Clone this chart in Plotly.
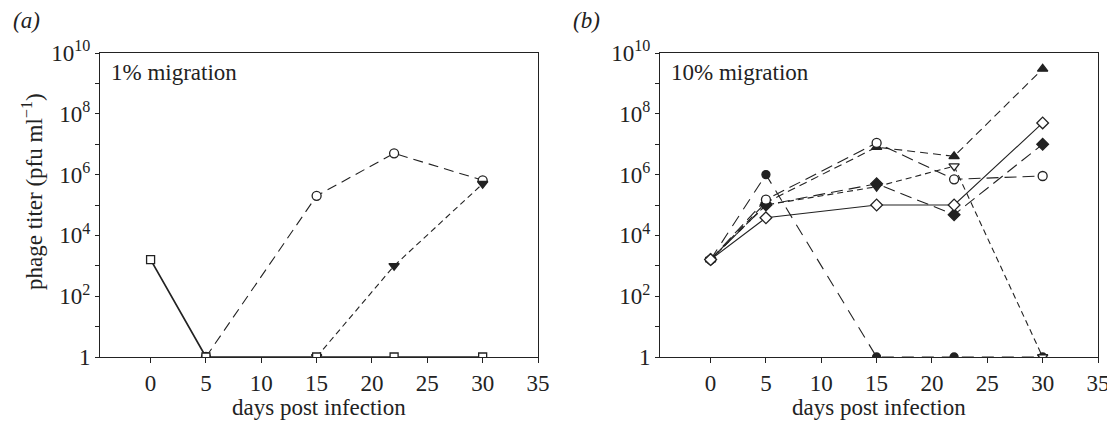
import plotly.graph_objects as go

# ---- data ----
days_a_sq = [0, 5, 15, 22, 30]
titer_a_sq = [1.6e3, 1, 1, 1, 1]
days_a_circ = [5, 15, 22, 30]
titer_a_circ = [1, 2e5, 5e6, 6.5e5]
days_a_tri = [15, 22, 30]
titer_a_tri = [1, 1e3, 5e5]

days_b = [0, 5, 15, 22, 30]
b_filled_circle = [1.6e3, 1e6, 1, 1, 1]
b_open_circle = [1.6e3, 1.5e5, 1.1e7, 7e5, 9e5]
b_filled_tri = [1.6e3, 1.2e5, 8e6, 4e6, 3e9]
b_open_tri_down = [1.6e3, 1e5, 4e5, 1.9e6, 1]
b_filled_diamond = [1.6e3, 1e5, 5e5, 4.8e4, 1e7]
b_open_diamond = [1.6e3, 3.8e4, 1e5, 1e5, 5e7]

x_ticks = [0, 5, 10, 15, 20, 25, 30, 35]
y_tickvals = [10 ** k for k in range(0, 11)]
y_ticktext = ["1" if k == 0 else (f"10<sup>{k}</sup>" if k % 2 == 0 else "") for k in range(0, 11)]

FONT = "Liberation Serif"
INK = "#222222"
FS = 23

# the page body adds an 8px offset; the figure is laid out in its own pixels
W, H = 1107, 417
OFF = 8

def px_x(p):  # page pixel -> paper fraction
    return (p - OFF) / W

def px_y(p):
    return 1 - (p - OFF) / H

fig = go.Figure()

def add(x, y, symbol, filled, dash, xa, ya, width=1.1, size=9):
    fig.add_trace(go.Scatter(
        x=x, y=y, mode="lines+markers", xaxis=xa, yaxis=ya,
        line=dict(color=INK, width=width, dash=dash),
        marker=dict(symbol=symbol, size=size, color=INK if filled else "white",
                    line=dict(color=INK, width=1.3)),
        showlegend=False))

# panel a
add(days_a_circ, titer_a_circ, "circle", False, "10px,6px", "x", "y")
add(days_a_tri, titer_a_tri, "triangle-down", True, "6px,4px", "x", "y")
add(days_a_sq, titer_a_sq, "square", False, "solid", "x", "y", width=1.7, size=8)

# panel b
add(days_b, b_filled_circle, "circle", True, "12px,8px", "x2", "y2", size=8)
add(days_b, b_open_tri_down, "triangle-down", False, "6px,4px", "x2", "y2")
add(days_b, b_filled_tri, "triangle-up", True, "8px,5px", "x2", "y2")
add(days_b, b_filled_diamond, "diamond", True, "12px,6px", "x2", "y2")
add(days_b, b_open_circle, "circle", False, "12px,6px", "x2", "y2")
add(days_b, b_open_diamond, "diamond", False, "solid", "x2", "y2")

xcommon = dict(range=[-4.57, 35], tickvals=x_ticks, ticks="outside", ticklen=5,
               tickcolor=INK, showline=True, linecolor=INK, linewidth=1, mirror=True,
               showgrid=False, zeroline=False, automargin=False,
               tickfont=dict(family=FONT, size=FS, color=INK))
ycommon = dict(type="log", range=[0, 10], tickvals=y_tickvals, ticktext=y_ticktext,
               ticks="outside", ticklen=4, tickcolor=INK, showline=True, linecolor=INK,
               linewidth=1, mirror=True, showgrid=False, zeroline=False, automargin=False,
               tickfont=dict(family=FONT, size=FS, color=INK))

tfont = dict(family=FONT, size=FS, color=INK)

fig.update_layout(
    template="none",
    width=W, height=H, autosize=False,
    margin=dict(l=0, r=0, t=0, b=0, pad=0, autoexpand=False),
    paper_bgcolor="white", plot_bgcolor="white",
    xaxis=dict(domain=[px_x(100), px_x(538)], anchor="y", **xcommon),
    yaxis=dict(domain=[px_y(357), px_y(53)], anchor="x", **ycommon),
    xaxis2=dict(domain=[px_x(660), px_x(1098)], anchor="y2", **xcommon),
    yaxis2=dict(domain=[px_y(357), px_y(53)], anchor="x2", **ycommon),
    annotations=[
        dict(text="1% migration", x=0.02, y=0.985, xref="x domain", yref="y domain",
             xanchor="left", yanchor="top", showarrow=False, font=tfont),
        dict(text="10% migration", x=0.02, y=0.985, xref="x2 domain", yref="y2 domain",
             xanchor="left", yanchor="top", showarrow=False, font=tfont),
        dict(text="<i>(a)</i>", x=px_x(11), y=px_y(20), xref="paper", yref="paper",
             xanchor="left", yanchor="middle", showarrow=False, font=tfont),
        dict(text="<i>(b)</i>", x=px_x(571), y=px_y(20), xref="paper", yref="paper",
             xanchor="left", yanchor="middle", showarrow=False, font=tfont),
        dict(text="phage titer (pfu ml<sup>−1</sup>)", x=px_x(33), y=px_y(192),
             xref="paper", yref="paper", xanchor="center", yanchor="middle",
             textangle=-90, showarrow=False, font=tfont),
        dict(text="days post infection", x=px_x(319), y=px_y(407),
             xref="paper", yref="paper", xanchor="center", yanchor="middle",
             showarrow=False, font=tfont),
        dict(text="days post infection", x=px_x(879), y=px_y(407),
             xref="paper", yref="paper", xanchor="center", yanchor="middle",
             showarrow=False, font=tfont),
    ],
)

fig.write_html("out.html")
